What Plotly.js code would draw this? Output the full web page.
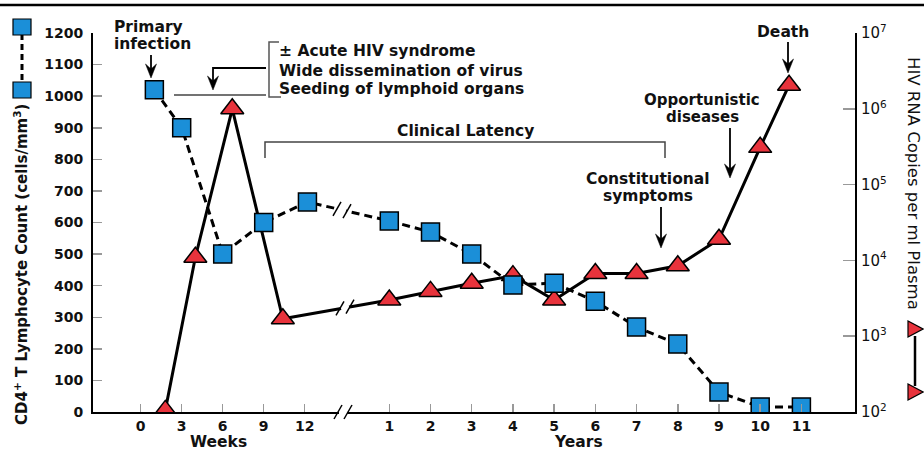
<!DOCTYPE html>
<html><head><meta charset="utf-8">
<script src="https://cdn.plot.ly/plotly-3.0.1.min.js"></script>
<style>html,body{margin:0;padding:0;background:#fff}#chart{width:924px;height:450px}</style>
</head><body><div id="chart"></div>
<script>
// ---- data ----
const weekTicks = [0, 3, 6, 9, 12];
const yearTicks = [1, 2, 3, 4, 5, 6, 7, 8, 9, 10, 11];
const cd4Weeks = [1, 3, 6, 9, 12.2];
const cd4WeekValues = [1020, 900, 500, 600, 665];
const cd4Years = [1, 2, 3, 4, 5, 6, 7, 8, 9, 10, 11];
const cd4YearValues = [605, 570, 500, 402, 408, 351, 269, 215, 63, 16, 16];
const rnaWeeks = [1.8, 4.0, 6.7, 10.4];
const rnaWeekValues = [105, 11000, 1000000, 1700];
const rnaYears = [1, 2, 3, 4, 5, 6, 7, 8, 9, 10, 10.7];
const rnaYearValues = [3000, 3900, 5000, 6300, 3000, 6700, 6700, 8500, 19000, 310000, 2050000];
const cd4TickVals = [0, 100, 200, 300, 400, 500, 600, 700, 800, 900, 1000, 1100, 1200];
const rnaTickVals = [1e2, 1e3, 1e4, 1e5, 1e6, 1e7];
const rnaTickText = ['10<sup>2</sup>','10<sup>3</sup>','10<sup>4</sup>','10<sup>5</sup>','10<sup>6</sup>','10<sup>7</sup>'];

// composite axis: weeks and years on one broken axis
const wk = w => w / 3;
const yr = y => 6.063 + 1.005 * (y - 1);

const FONT = 'DejaVu Sans, Verdana, sans-serif';
const INK = '#111';

const cd4 = {
  x: cd4Weeks.map(wk).concat(cd4Years.map(yr)),
  y: cd4WeekValues.concat(cd4YearValues),
  xaxis: 'x', yaxis: 'y2', type: 'scatter', mode: 'lines+markers',
  line: {color: '#000', width: 3, dash: '8px,5px'},
  marker: {symbol: 'square', size: 18, color: '#1b8fd8', line: {color: '#000', width: 1.5}},
  hoverinfo: 'skip'
};
const rna = {
  x: rnaWeeks.map(wk).concat(rnaYears.map(yr)),
  y: rnaWeekValues.concat(rnaYearValues),
  xaxis: 'x', yaxis: 'y', type: 'scatter', mode: 'lines+markers',
  line: {color: '#000', width: 3},
  marker: {symbol: 'triangle-up', size: 20, color: '#e8333c', line: {color: '#000', width: 1.5}},
  hoverinfo: 'skip'
};

// pixel -> paper helpers for decorations
const L = 93, R = 855, T = 33, B = 412;
const px = p => (p - L) / (R - L);
const py = p => (B - p) / (B - T);
function seg(x0, y0, x1, y1, color, width, dash) {
  return {type: 'line', xref: 'paper', yref: 'paper', x0: px(x0), y0: py(y0), x1: px(x1), y1: py(y1),
    line: {color: color || '#000', width: width || 1.5, dash: dash || 'solid'}};
}
function poly(pts, fill, lineColor, lw) {
  const d = pts.map((p, i) => (i ? 'L' : 'M') + px(p[0]).toFixed(5) + ',' + py(p[1]).toFixed(5)).join(' ') + ' Z';
  return {type: 'path', xref: 'paper', yref: 'paper', path: d, fillcolor: fill,
    line: {color: lineColor || fill, width: lw === undefined ? 0.5 : lw}};
}
function openPath(pts, color, width) {
  const d = pts.map((p, i) => (i ? 'L' : 'M') + px(p[0]).toFixed(5) + ',' + py(p[1]).toFixed(5)).join(' ');
  return {type: 'path', xref: 'paper', yref: 'paper', path: d, line: {color: color, width: width}};
}
function arrowDown(x, y0, tip) {
  return [seg(x, y0, x, tip - 8, '#000', 1.8),
    poly([[x, tip], [x - 5.5, tip - 14], [x, tip - 9], [x + 5.5, tip - 14]], '#000')];
}
function slashes(cx, cy, gap, gapSlope) {
  const a = cx - gap / 2, b = cx + gap / 2;
  const ya = cy - gapSlope * gap / 2, yb = cy + gapSlope * gap / 2;
  return [
    seg(a + 1, ya, b - 1, yb, '#fff', 6),
    seg(a - 4, ya + 7, a + 4, ya - 7, '#000', 1.5),
    seg(b - 4, yb + 7, b + 4, yb - 7, '#000', 1.5)
  ];
}

const shapes = [
  seg(0, 5, 924, 5, '#000', 2.5),
  // left legend (CD4)
  seg(22, 34, 22, 83, '#000', 3, '6px,4px'),
  poly([[13, 19], [31, 19], [31, 35], [13, 35]], '#1b8fd8', '#000', 1.2),
  poly([[13, 82], [31, 82], [31, 98], [13, 98]], '#1b8fd8', '#000', 1.2),
  // right legend (RNA)
  seg(915, 336, 915, 386, '#000', 2.5),
  poly([[908, 321], [908, 337], [923, 329]], '#e8333c', '#000', 1.2),
  poly([[908, 384], [908, 400], [923, 392]], '#e8333c', '#000', 1.2),
  // acute syndrome bracket and arrows
  seg(174, 95, 266, 95, '#444', 1.5),
  openPath([[279, 42], [269, 42], [269, 97], [281, 97]], '#555', 1.5),
  openPath([[266, 68], [213, 68], [213, 82]], '#000', 1.8),
  poly([[213, 90], [207.5, 76], [213, 81], [218.5, 76]], '#000'),
  // clinical latency bracket
  openPath([[265, 158], [265, 142], [665, 142], [665, 158]], '#444', 1.5),
  // axis break and line breaks
  ...slashes(343, 412, 10, 0),
  ...slashes(345, 307.4, 10, -0.177),
  ...slashes(342, 210, 10, 0.23)
]
.concat(arrowDown(151, 55, 78))
.concat(arrowDown(730, 128, 178))
.concat(arrowDown(661, 207, 248))
.concat(arrowDown(788, 42, 73));

function txt(text, x, y, xanchor, size, bold) {
  return {text: bold === false ? text : '<b>' + text + '</b>', xref: 'paper', yref: 'paper',
    x: px(x), y: py(y), xanchor: xanchor || 'center', yanchor: 'middle', showarrow: false,
    borderpad: 0,
    font: {family: FONT, size: size || 15.5, color: INK}};
}
const annotations = [
  txt('Primary', 113, 27.5, 'left'),
  txt('infection', 113, 44, 'left'),
  txt('± Acute HIV syndrome', 278, 51, 'left'),
  txt('Wide dissemination of virus', 278, 71, 'left'),
  txt('Seeding of lymphoid organs', 278, 89, 'left'),
  txt('Clinical Latency', 465, 131),
  txt('Opportunistic', 702, 100, 'center', 15),
  txt('diseases', 702, 117, 'center', 15),
  txt('Constitutional', 648, 178.5),
  txt('symptoms', 648, 196),
  txt('Death', 783, 32),
  txt('Weeks', 218, 442),
  txt('Years', 578, 442),
  Object.assign(txt('CD4<sup>+</sup> T Lymphocyte Count (cells/mm<sup>3</sup>)', 21, 265, 'center', 15), {textangle: -90}),
  Object.assign(txt('HIV RNA Copies per ml Plasma', 914, 183, 'center', 16.5, false), {textangle: 90})
];

const layout = {
  width: 924, height: 450,
  margin: {l: 93, r: 69, t: 33, b: 38, pad: 0},
  paper_bgcolor: '#fff', plot_bgcolor: '#fff',
  showlegend: false,
  xaxis: {
    range: [wk(0) - 1.163, 17.42], showgrid: false, zeroline: false,
    showline: true, linecolor: '#000', linewidth: 2,
    ticks: 'inside', ticklen: 8, tickwidth: 1.5, tickcolor: '#999',
    ticklabelstandoff: 0,
    tickvals: weekTicks.map(wk).concat(yearTicks.map(yr)),
    ticktext: weekTicks.map(String).concat(yearTicks.map(String)).map(s => '<b>' + s + '</b>'),
    tickfont: {family: FONT, size: 14, color: INK}
  },
  yaxis: {
    type: 'log', range: [2, 7], side: 'right', showgrid: false, zeroline: false,
    showline: true, linecolor: '#000', linewidth: 2,
    ticks: 'inside', ticklen: 12, tickwidth: 1.5, tickcolor: '#999',
    ticklabelstandoff: 1,
    tickvals: rnaTickVals, ticktext: rnaTickText,
    tickfont: {family: FONT, size: 15, color: INK}
  },
  yaxis2: {
    overlaying: 'y', side: 'left', range: [0, 1200], showgrid: false, zeroline: false,
    showline: true, linecolor: '#000', linewidth: 2,
    ticks: 'inside', ticklen: 9, tickwidth: 1.5, tickcolor: '#999',
    ticklabelstandoff: 5,
    tickvals: cd4TickVals,
    ticktext: cd4TickVals.map(v => '<b>' + v + '</b>'),
    tickfont: {family: FONT, size: 14, color: INK}
  },
  shapes: shapes,
  annotations: annotations
};

Plotly.newPlot('chart', [rna, cd4], layout, {displayModeBar: false, staticPlot: true});
</script>
</body></html>
